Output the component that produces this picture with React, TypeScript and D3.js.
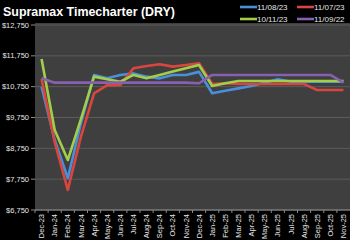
import React from "react";
import * as d3 from "d3";

const categories = [
  "Dec-23", "Jan-24", "Feb-24", "Mar-24", "Apr-24", "May-24", "Jun-24", "Jul-24",
  "Aug-24", "Sep-24", "Oct-24", "Nov-24", "Dec-24", "Jan-25", "Feb-25", "Mar-25",
  "Apr-25", "May-25", "Jun-25", "Jul-25", "Aug-25", "Sep-25", "Oct-25", "Nov-25",
];

const seriesNames = ["11/08/23", "11/07/23", "10/11/23", "11/09/22"];
const seriesColors = ["#4a8fdb", "#d9463f", "#a2cf4a", "#8760b0"];

const blueValues = [10750, 9020, 7780, 9570, 11130, 11020, 11130, 11180, 11075, 11020, 11130, 11130, 11230, 10535, 10620, 10695, 10770, 10880, 10990, 10910, 10910, 10910, 10910, 10910];
const redValues = [11000, 8950, 7400, 9130, 10535, 10800, 10800, 11346, 11420, 11475, 11400, 11450, 11510, 10837, 10860, 10837, 10837, 10837, 10837, 10837, 10837, 10640, 10640, 10640];
const greenValues = [11650, 9345, 8372, 9700, 11075, 10990, 10910, 11130, 11020, 11130, 11240, 11345, 11450, 10770, 10860, 10935, 10935, 10935, 10935, 10935, 10935, 10935, 10935, 10935];
const purpleValues = [11020, 10880, 10880, 10880, 10880, 10880, 10880, 10880, 10880, 10880, 10880, 10880, 10860, 11130, 11130, 11130, 11130, 11130, 11130, 11130, 11130, 11130, 11130, 10880];

const yTicks = [6750, 7750, 8750, 9750, 10750, 11750, 12750];

const W = 350;
const H = 240;
const left = 35;
const right = 350;
const top = 25;
const bottom = 210;

export default function App() {
  const x = d3.scaleBand<string>().domain(categories).range([left, right]);
  const y = d3.scaleLinear().domain([6750, 12750]).range([bottom, top]);
  const line = d3
    .line<number>()
    .x((_, i) => (x(categories[i]) as number) + x.bandwidth() / 2)
    .y((d) => y(d));
  const all = [blueValues, redValues, greenValues, purpleValues];
  const fmt = (v: number) => "$" + d3.format(",")(v);
  const legendPos = [
    [240, 7],
    [297, 7],
    [240, 19],
    [297, 19],
  ];
  return (
    <div style={{ position: "fixed", left: 0, top: 0, width: W, height: H, background: "#000" }}>
      <svg width={W} height={H} style={{ display: "block" }} fontFamily="'Liberation Sans', Arial, sans-serif">
        <rect x={0} y={0} width={W} height={H} fill="#000" />
        <rect x={left} y={top - 2} width={right - left} height={bottom - top + 2} fill="#3f3f3f" />
        {yTicks.map((t) => (
          <g key={t}>
            <line x1={left} x2={right} y1={y(t)} y2={y(t)} stroke="#5c5c5c" strokeWidth={1} />
            <line x1={left - 4} x2={left} y1={y(t)} y2={y(t)} stroke="#8a8a8a" strokeWidth={1} />
            <text x={29} y={y(t)} dy="0.35em" textAnchor="end" fontSize={7.5} fill="#e6e6e6">
              {fmt(t)}
            </text>
          </g>
        ))}
        <line x1={left} x2={right} y1={bottom} y2={bottom} stroke="#8a8a8a" strokeWidth={1} />
        {categories.map((c) => (
          <line key={"t" + c} x1={x(c) as number} x2={x(c) as number} y1={bottom} y2={bottom + 3} stroke="#8a8a8a" strokeWidth={1} />
        ))}
        {categories.map((c) => {
          const cx = (x(c) as number) + x.bandwidth() / 2;
          return (
            <text
              key={c}
              transform={`translate(${cx},${bottom + 4}) rotate(-90)`}
              textAnchor="end"
              dy="0.35em"
              fontSize={7.5}
              fill="#e6e6e6"
            >
              {c}
            </text>
          );
        })}
        {all.map((vals, si) => (
          <path
            key={seriesNames[si]}
            d={line(vals) as string}
            fill="none"
            stroke={seriesColors[si]}
            strokeWidth={2.6}
            strokeLinejoin="round"
          />
        ))}
        <text x={3} y={15.5} fontSize={13.5} fontWeight="bold" fill="#ffffff" textLength={172} lengthAdjust="spacingAndGlyphs">
          Supramax Timecharter (DRY)
        </text>
        {seriesNames.map((n, i) => (
          <g key={n}>
            <line x1={legendPos[i][0]} x2={legendPos[i][0] + 17} y1={legendPos[i][1]} y2={legendPos[i][1]} stroke={seriesColors[i]} strokeWidth={2.6} />
            <text x={legendPos[i][0] + 17} y={legendPos[i][1]} dy="0.35em" fontSize={8} fill="#e6e6e6">
              {n}
            </text>
          </g>
        ))}
      </svg>
    </div>
  );
}
